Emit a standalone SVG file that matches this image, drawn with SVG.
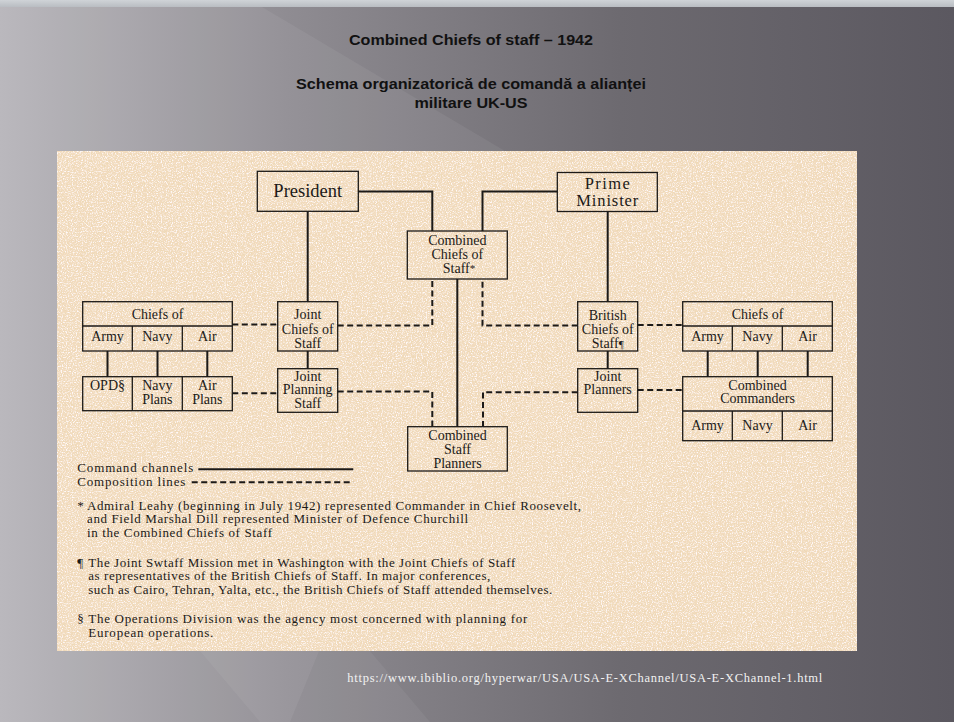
<svg xmlns="http://www.w3.org/2000/svg" width="954" height="722" viewBox="0 0 954 722">
<defs>
<linearGradient id="bg" x1="0" y1="0" x2="1" y2="0">
<stop offset="0" stop-color="#b6b4b9"/>
<stop offset="0.3" stop-color="#8f8c92"/>
<stop offset="0.65" stop-color="#6d6a70"/>
<stop offset="1" stop-color="#5b5860"/>
</linearGradient>
<linearGradient id="strip" x1="0" y1="0" x2="0" y2="1">
<stop offset="0" stop-color="#cfd3d7"/>
<stop offset="1" stop-color="#b9bdc2"/>
</linearGradient>
<filter id="paper" x="0" y="0" width="100%" height="100%">
<feTurbulence type="fractalNoise" baseFrequency="0.7" numOctaves="2" seed="7" result="n"/>
<feColorMatrix in="n" type="matrix" values="0 0 0 0 0.84  0 0 0 0 0.69  0 0 0 0 0.45  3.6 0 0 0 -1.75"/>
<feComposite in2="SourceGraphic" operator="in"/>
</filter>
<filter id="paper2" x="0" y="0" width="100%" height="100%">
<feTurbulence type="fractalNoise" baseFrequency="0.8" numOctaves="2" seed="21" result="n"/>
<feColorMatrix in="n" type="matrix" values="0 0 0 0 1  0 0 0 0 0.95  0 0 0 0 0.95  0 3.4 0 0 -1.6"/>
<feComposite in2="SourceGraphic" operator="in"/>
</filter>
<style>
.box{fill:none;stroke:#1c1a18;stroke-width:1.3}
.solid{fill:none;stroke:#1c1a18;stroke-width:2}
.dash{fill:none;stroke:#1c1a18;stroke-width:2;stroke-dasharray:6 3.5}
.t{font-family:"Liberation Serif",serif;font-size:14px;fill:#1c1a18;text-anchor:middle}
.big{font-size:18.5px}
.pm{font-size:16.5px}
.fn{font-family:"Liberation Serif",serif;font-size:13px;fill:#1c1a18}
.title{font-family:"Liberation Sans",Arial,sans-serif;font-weight:bold;font-size:15.5px;fill:#111;text-anchor:middle}
.url{font-family:"Liberation Serif",serif;font-size:12.5px;fill:#f2f2f2}
</style>
</defs>
<rect x="0" y="0" width="954" height="722" fill="url(#bg)"/>
<polygon points="60,7 262,7 520,160 290,722 0,722 0,7" fill="#ffffff" opacity="0.06"/>
<polygon points="200,651 370,651 430,722 260,722" fill="#ffffff" opacity="0.05"/>
<rect x="0" y="0" width="954" height="7" fill="url(#strip)"/>

<g id="titles">
<text class="title" x="471" y="45" textLength="244" lengthAdjust="spacingAndGlyphs">Combined Chiefs of staff – 1942</text>
<text class="title" x="471" y="89.3" textLength="350" lengthAdjust="spacingAndGlyphs">Schema organizatorică de comandă a alianței</text>
<text class="title" x="471" y="108.3" textLength="113" lengthAdjust="spacingAndGlyphs">militare UK-US</text>
</g>

<g id="panel">
<rect x="57" y="151" width="800" height="500" fill="#f2dbbe"/>
<rect x="57" y="151" width="800" height="500" fill="#f2dbbe" filter="url(#paper)"/>
<rect x="57" y="151" width="800" height="500" fill="#f2dbbe" filter="url(#paper2)"/>
</g>

<g id="connectors">
<path class="solid" d="M358,191.5 H432.3 V231"/>
<path class="solid" d="M557.3,191.5 H482.5 V231"/>
<path class="solid" d="M307.7,211.3 V301.7"/>
<path class="solid" d="M307.7,351 V368.7"/>
<path class="solid" d="M607.7,211.5 V301.7"/>
<path class="solid" d="M607.7,351 V368.7"/>
<path class="solid" d="M457.3,279 V426.7"/>
<path class="solid" d="M107.5,351 V376.7 M157.5,351 V376.7 M207.3,351 V376.7"/>
<path class="solid" d="M707.7,351 V376.7 M757.7,351 V376.7 M807.7,351 V376.7"/>
<path class="dash" d="M232.3,324.5 H277.7"/>
<path class="dash" d="M232.3,393.3 H277.7"/>
<path class="dash" d="M337.7,325.5 H432.3 V279"/>
<path class="dash" d="M577.7,325.5 H482.5 V279"/>
<path class="dash" d="M637.7,325 H682.7"/>
<path class="dash" d="M337.7,391.5 H432.3 V426.7"/>
<path class="dash" d="M577.7,392.3 H483 V426.7"/>
<path class="dash" d="M637.7,390 H682.7"/>
</g>

<g id="president">
<rect class="box" x="257.3" y="171.3" width="101" height="40"/>
<text class="t big" x="307.8" y="196.5">President</text>
</g>
<g id="prime-minister">
<rect class="box" x="557.3" y="172.5" width="100" height="39"/>
<text class="t pm" x="607.3" y="188.5" textLength="45">Prime</text>
<text class="t pm" x="607.3" y="206" textLength="62">Minister</text>
</g>
<g id="combined-chiefs">
<rect class="box" x="407.3" y="231" width="100" height="48"/>
<text class="t" x="457.3" y="245">Combined</text>
<text class="t" x="457.3" y="259.3">Chiefs of</text>
<text class="t" x="459" y="273.3">Staff<tspan font-size="11" dy="-1.5">*</tspan></text>
</g>
<g id="joint-chiefs">
<rect class="box" x="277.7" y="301.7" width="60" height="49.3"/>
<text class="t" x="307.7" y="319.3">Joint</text>
<text class="t" x="307.7" y="334.3">Chiefs of</text>
<text class="t" x="307.7" y="348.3">Staff</text>
</g>
<g id="joint-planning-staff">
<rect class="box" x="277.7" y="368.7" width="60" height="43.6"/>
<text class="t" x="307.7" y="380.7">Joint</text>
<text class="t" x="307.7" y="394.3">Planning</text>
<text class="t" x="307.7" y="407.5">Staff</text>
</g>
<g id="british-chiefs">
<rect class="box" x="577.7" y="301.7" width="60" height="49.3"/>
<text class="t" x="607.7" y="320">British</text>
<text class="t" x="607.7" y="334.3">Chiefs of</text>
<text class="t" x="607.7" y="348.3">Staff<tspan font-size="11">¶</tspan></text>
</g>
<g id="joint-planners">
<rect class="box" x="577.7" y="368.7" width="60" height="43.6"/>
<text class="t" x="607.7" y="380.7">Joint</text>
<text class="t" x="607.7" y="394.3">Planners</text>
</g>
<g id="combined-staff-planners">
<rect class="box" x="407.7" y="426.7" width="99.6" height="44.3"/>
<text class="t" x="457.5" y="440">Combined</text>
<text class="t" x="457.5" y="454.3">Staff</text>
<text class="t" x="457.5" y="468.3">Planners</text>
</g>
<g id="us-chiefs">
<rect class="box" x="82.7" y="301.7" width="149.6" height="49.3"/>
<path class="box" d="M82.7,326 H232.3 M132.3,326 V351 M182.3,326 V351"/>
<text class="t" x="157.5" y="319.3">Chiefs of</text>
<text class="t" x="107.5" y="340.7">Army</text>
<text class="t" x="157.3" y="340.7">Navy</text>
<text class="t" x="207.3" y="340.7">Air</text>
</g>
<g id="us-plans">
<rect class="box" x="82.7" y="376.7" width="149.6" height="34"/>
<path class="box" d="M132.3,376.7 V410.7 M182.3,376.7 V410.7"/>
<text class="t" x="107.5" y="390">OPD§</text>
<text class="t" x="157.3" y="390">Navy</text>
<text class="t" x="157.3" y="404">Plans</text>
<text class="t" x="207.3" y="390">Air</text>
<text class="t" x="207.3" y="404">Plans</text>
</g>
<g id="uk-chiefs">
<rect class="box" x="682.7" y="301.7" width="149.6" height="49.3"/>
<path class="box" d="M682.7,326 H832.3 M732.3,326 V351 M782.3,326 V351"/>
<text class="t" x="757.5" y="319.3">Chiefs of</text>
<text class="t" x="707.5" y="340.7">Army</text>
<text class="t" x="757.5" y="340.7">Navy</text>
<text class="t" x="807.5" y="340.7">Air</text>
</g>
<g id="combined-commanders">
<rect class="box" x="682.7" y="376.7" width="149.6" height="64"/>
<path class="box" d="M682.7,411 H832.3 M732.3,411 V440.7 M782.3,411 V440.7"/>
<text class="t" x="757.5" y="390">Combined</text>
<text class="t" x="757.5" y="403.3">Commanders</text>
<text class="t" x="707.5" y="430">Army</text>
<text class="t" x="757.5" y="430">Navy</text>
<text class="t" x="807.5" y="430">Air</text>
</g>

<g id="legend">
<text class="fn" x="77.3" y="472.3" font-size="13.5" textLength="116">Command channels</text>
<line class="solid" x1="198.3" y1="469.3" x2="353.3" y2="469.3"/>
<text class="fn" x="77.3" y="485.5" font-size="13.5" textLength="108">Composition lines</text>
<line class="dash" x1="191.7" y1="482.3" x2="353.3" y2="482.3"/>
</g>

<g id="footnotes">
<text class="fn" x="77.3" y="510">*</text>
<text class="fn" x="87" y="510" textLength="494">Admiral Leahy (beginning in July 1942) represented Commander in Chief Roosevelt,</text>
<text class="fn" x="87" y="523.3" textLength="381">and Field Marshal Dill represented Minister of Defence Churchill</text>
<text class="fn" x="87" y="537" textLength="185">in the Combined Chiefs of Staff</text>
<text class="fn" x="77.3" y="566.7">¶</text>
<text class="fn" x="88.3" y="566.7" textLength="427">The Joint Swtaff Mission met in Washington with the Joint Chiefs of Staff</text>
<text class="fn" x="88.3" y="580.3" textLength="402">as representatives of the British Chiefs of Staff. In major conferences,</text>
<text class="fn" x="88.3" y="594.3" textLength="464">such as Cairo, Tehran, Yalta, etc., the British Chiefs of Staff attended themselves.</text>
<text class="fn" x="77.3" y="623.3">§</text>
<text class="fn" x="88.3" y="623.3" textLength="439">The Operations Division was the agency most concerned with planning for</text>
<text class="fn" x="88.3" y="636.7" textLength="125">European operations.</text>
</g>

<g id="source">
<text class="url" x="347.3" y="681.7" textLength="475">https://www.ibiblio.org/hyperwar/USA/USA-E-XChannel/USA-E-XChannel-1.html</text>
</g>
</svg>
